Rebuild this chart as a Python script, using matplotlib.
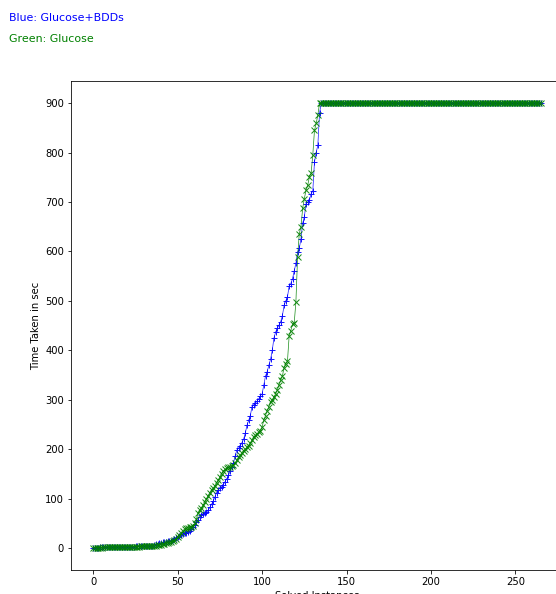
import matplotlib
matplotlib.use("Agg")
import matplotlib.pyplot as plt
import numpy as np

# sorted solve times (sec) per instance; unsolved plotted at the 900 s timeout
blue_times = [
    0.5, 0.6, 0.7, 0.8, 0.9, 1.0, 1.0, 1.1, 1.2, 1.3,
    1.4, 1.5, 1.6, 1.7, 1.8, 1.9, 2.0, 2.1, 2.2, 2.3,
    2.4, 2.5, 2.6, 2.7, 2.8, 2.9, 3.0, 3.1, 3.2, 3.3,
    3.4, 3.5, 3.6, 3.8, 4.0, 4.5, 6, 7, 8, 9,
    10, 11, 11, 12, 13, 14, 15, 17, 19, 21,
    23, 25, 27, 28, 30, 31, 33, 35, 38, 42,
    47, 52, 57, 63, 66, 68, 70, 72, 76, 82,
    88, 95, 103, 112, 117, 121, 124, 128, 134, 140,
    147, 155, 163, 172, 186, 198, 202, 206, 213, 220,
    232, 248, 258, 268, 286, 290, 293, 297, 302, 308,
    312, 330, 348, 357, 370, 382, 400, 425, 437, 445,
    451, 458, 470, 491, 500, 508, 530, 535, 545, 560,
    576, 599, 606, 626, 657, 670, 697, 700, 704, 717,
    722, 781, 800, 815, 880,
]
blue_timeouts = [900] * 131

green_times = [
    0.3, 0.4, 0.5, 0.6, 0.7, 0.8, 0.9, 1.0, 1.0, 1.1,
    1.2, 1.3, 1.4, 1.5, 1.5, 1.6, 1.7, 1.8, 1.9, 2.0,
    2.1, 2.2, 2.3, 2.4, 2.5, 2.6, 2.7, 2.8, 2.9, 3.0,
    3.1, 3.2, 3.3, 3.4, 3.5, 3.7, 4.0, 4.5, 5, 6,
    6.5, 7, 8, 9, 10, 11, 12, 14, 16, 19,
    23, 27, 31, 35, 38, 40, 41, 42, 43, 45,
    50, 58, 70, 76, 81, 86, 92, 99, 106, 112,
    117, 121, 126, 131, 137, 144, 150, 156, 159, 161,
    163, 164, 165, 168, 172, 178, 183, 188, 193, 197,
    200, 204, 207, 212, 218, 224, 228, 231, 234, 237,
    245, 259, 268, 278, 286, 295, 300, 306, 312, 320,
    330, 340, 348, 365, 373, 378, 429, 440, 453, 455,
    498, 589, 636, 650, 687, 707, 724, 734, 751, 758,
    795, 845, 859, 876,
]
green_timeouts = [900] * 132

blue = blue_times + blue_timeouts
green = green_times + green_timeouts

# rendered at 72 dpi like the original screenshot
fig = plt.figure(figsize=(556 / 72, 594 / 72), dpi=72)
ax = fig.add_axes([71 / 556, 24 / 594, 492 / 556, 489 / 594])

ax.plot(np.arange(len(blue)), blue, "b+-", lw=0.7, ms=6, alpha=0.9)
ax.plot(np.arange(len(green)), green, "gx-", lw=0.7, ms=6, alpha=0.9)

ax.set_yticks(np.arange(0, 1000, 100))
ax.set_xlabel("Solved Instances")
ax.set_ylabel("Time Taken in sec")

fig.text(9 / 556, 1 - 18 / 594, "Blue: Glucose+BDDs", color="blue", va="center", fontsize=11)
fig.text(9 / 556, 1 - 39 / 594, "Green: Glucose", color="green", va="center", fontsize=11)

fig.savefig("out.png", dpi=72)
